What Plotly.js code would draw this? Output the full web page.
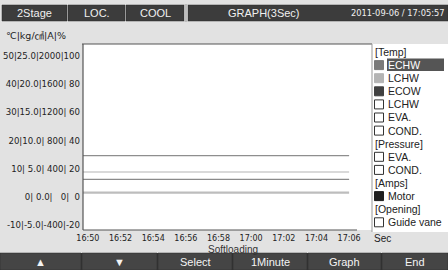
<!DOCTYPE html>
<html><head><meta charset="utf-8">
<script src="https://cdn.plot.ly/plotly-3.0.1.min.js"></script>
<style>html,body{margin:0;padding:0;background:#e2e2e2;}#g{width:448px;height:270px;}</style>
</head><body><div id="g"></div>
<script>
// ---- data ----
const times = ['2011-09-06 16:49:42','2011-09-06 16:51:00','2011-09-06 16:53:00','2011-09-06 16:55:00','2011-09-06 16:57:00','2011-09-06 16:59:00','2011-09-06 17:01:00','2011-09-06 17:03:00','2011-09-06 17:04:30','2011-09-06 17:05:00','2011-09-06 17:05:20','2011-09-06 17:06:00'];
const seriesNames = ['ECHW','LCHW','ECOW','Motor'];
const echw  = [14.6,14.6,14.6,14.6,14.6,14.6,14.6,14.6,14.6,14.8,14.6,14.6];
const lchw  = [8.8,8.8,8.8,8.8,8.8,8.8,8.8,8.8,8.9,8.7,8.9,8.8];
const ecow  = [6.2,6.2,6.2,6.2,6.2,6.2,6.2,6.2,6.2,6.2,6.2,6.2];
const motor = [1.5,1.5,1.5,1.5,1.5,1.5,1.5,1.5,1.5,1.5,1.5,1.5];
const yTickVals = [-10,0,10,20,30,40,50];
const yTickText = ['-10|-5.0|-400|-20','0| 0.0|   0|  0','10| 5.0| 400| 20','20|10.0| 800| 40','30|15.0|1200| 60','40|20.0|1600| 80','50|25.0|2000|100'];
const xTickVals = ['2011-09-06 16:50','2011-09-06 16:52','2011-09-06 16:54','2011-09-06 16:56','2011-09-06 16:58','2011-09-06 17:00','2011-09-06 17:02','2011-09-06 17:04','2011-09-06 17:06'];
const xTickText = ['16:50','16:52','16:54','16:56','16:58','17:00','17:02','17:04','17:06'];
const topTabs = ['2Stage','LOC.','COOL','GRAPH(3Sec)'];
const dateText = '2011-09-06 / 17:05:57';
const buttons = ['▲','▼','Select','1Minute','Graph','End'];
const legendItems = ['[Temp]','ECHW','LCHW','ECOW','LCHW','EVA.','COND.','[Pressure]','EVA.','COND.','[Amps]','Motor','[Opening]','Guide vane'];

// ---- layout helpers ----
const W=448,H=270;
const px=x=>x/W, py=y=>1-y/H;
const TFONT='"DejaVu Sans", "Noto Sans CJK KR", sans-serif';
const LFONT='"Liberation Sans", Arial, sans-serif';
const shapes=[], ann=[];
function rect(x0,y0,x1,y1,fill,line,lw,layer){shapes.push({type:'rect',xref:'paper',yref:'paper',x0:px(x0),x1:px(x1),y0:py(y1),y1:py(y0),fillcolor:fill,line:{color:line||fill,width:lw||0},layer:layer||'above'});}
function hline(x0,x1,y,c,w,layer){shapes.push({type:'line',xref:'paper',yref:'paper',x0:px(x0),x1:px(x1),y0:py(y),y1:py(y),line:{color:c,width:w},layer:layer||'above'});}
function vline(x,y0,y1,c,w,layer){shapes.push({type:'line',xref:'paper',yref:'paper',x0:px(x),x1:px(x),y0:py(y0),y1:py(y1),line:{color:c,width:w},layer:layer||'above'});}
function txt(t,x,y,size,color,anchor,fam){ann.push({text:t,xref:'paper',yref:'paper',x:px(x),y:py(y),xanchor:anchor||'center',yanchor:'middle',showarrow:false,font:{family:fam||LFONT,size:size,color:color}});}

// white panel behind plot
rect(83,44,372,230,'#ffffff',null,0,'below');
hline(82,372,44,'#555',1.2);
vline(83,44,230,'#555',1.2);
hline(83,357,230,'#555',1.2);
// legend panel
rect(372,44,448,232,'#ffffff',null,0,'below');
vline(372,44,232,'#999',1);

// top bar
const tabX=[[2,67],[68,125],[126,184],[188,448]];
tabX.forEach(b=>{rect(b[0],5,b[1],21,'#3c3c3c','#2a2a2a',0.5);});
vline(67.5,5,21,'#9a9a9a',1); vline(125.5,5,21,'#9a9a9a',1);
vline(186,4,22,'#bdbdbd',3);
topTabs.forEach((t,i)=>{const c=i<3?(tabX[i][0]+tabX[i][1])/2:264; txt(t,c,13,11,'#f0f0f0');});
txt(dateText,349,13,8.3,'#f0f0f0','left',TFONT);

// header unit label
txt('℃|kg/㎠|A|%',4,36,9.5,'#222','left',TFONT);

// legend
legendItems.forEach((t,i)=>{
  const y=52+i*13.1;
  if(t.startsWith('[')){txt(t,373,y,10.5,'#222','left');return;}
  let fill='#ffffff';
  if(i===1) fill='#7a7a7a'; else if(i===2) fill='#b4b4b4'; else if(i===3) fill='#404040'; else if(i===11) fill='#1e1e1e';
  if(i===1) rect(387,y-6.5,444,y+6,'#555555',null,0,'above');
  rect(374.5,y-4.5,383.5,y+4.5,fill,fill==='#ffffff'?'#333':fill,1);
  txt(t,386,y,10.5,i===1?'#ffffff':'#222','left');
});
txt('Sec',372,238,10,'#222','left');
txt('Softloading',233,249.5,10,'#333');

// bottom bar
const btnX=[[0,81],[82,157],[158,232],[233,307],[308,381],[382,448]];
rect(0,253,448,270,'#3a3a3a',null,0,'above');
btnX.forEach((b,i)=>{rect(b[0],253,b[1],270,'#454545','#2a2a2a',0.5); txt(buttons[i],(b[0]+b[1])/2,262,i<2?11:11,'#f4f4f4');});

const mk=(y,c,w)=>({x:times,y:y,type:'scatter',mode:'lines',line:{color:c,width:w,shape:'linear'},hoverinfo:'skip',showlegend:false});
const data=[mk(echw,'#8e8e8e',1.2),mk(lchw,'#cdcdcd',1.6),mk(ecow,'#8a8a8a',1.2),mk(motor,'#bdbdbd',2.2)];

const layout={width:W,height:H,margin:{l:0,r:0,t:0,b:0},paper_bgcolor:'#e2e2e2',plot_bgcolor:'#ffffff',showlegend:false,
 font:{family:TFONT,color:'#222'},
 xaxis:{domain:[px(83),px(357)],type:'date',range:['2011-09-06 16:49:42','2011-09-06 17:06:29'],tickvals:xTickVals,ticktext:xTickText,showgrid:false,zeroline:false,showline:false,ticks:'',ticklabelstandoff:2,tickfont:{size:8,family:TFONT,color:'#222'}},
 yaxis:{domain:[py(230),py(44)],range:[-11.78,54.26],tickvals:yTickVals,ticktext:yTickText,showgrid:false,zeroline:false,showline:false,ticks:'',ticklabelstandoff:2,tickfont:{size:8.6,family:TFONT,color:'#222'}},
 shapes:shapes,annotations:ann};
Plotly.newPlot('g',data,layout,{staticPlot:true,displayModeBar:false});
</script></body></html>
